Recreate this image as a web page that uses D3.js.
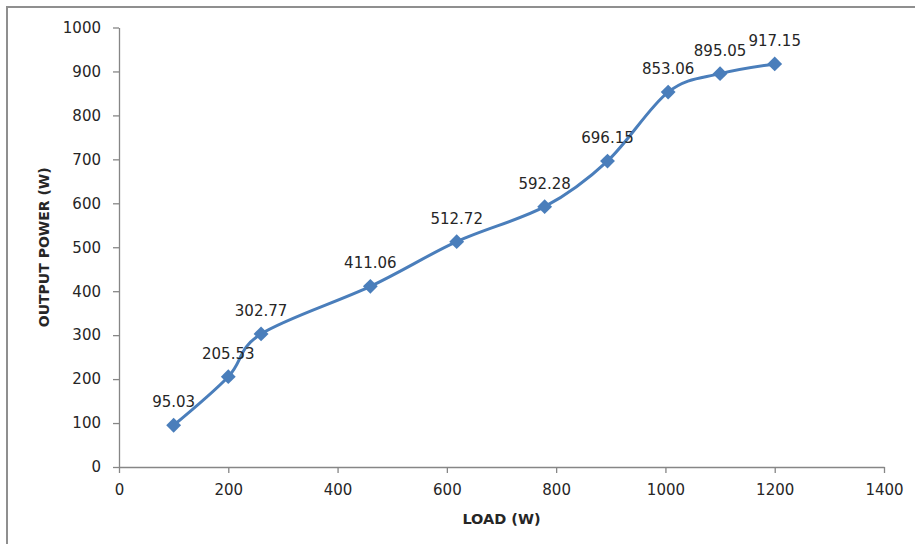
<!DOCTYPE html>
<html>
<head>
<meta charset="utf-8">
<script src="https://cdn.jsdelivr.net/npm/d3@7"></script>
<style>
  html, body { margin: 0; padding: 0; background: #fff; }
  svg { display: block; }
  text { font-family: "DejaVu Sans", "Open Sans", sans-serif; fill: #262626; }
</style>
</head>
<body>
<svg id="chart" width="915" height="544"></svg>
<script>
// ---- data ----
const loads = [100, 200, 260, 460, 618, 779, 894, 1005, 1100, 1200];
const outputPower = [95.03, 205.53, 302.77, 411.06, 512.72, 592.28, 696.15, 853.06, 895.05, 917.15];
const xTicks = [0, 200, 400, 600, 800, 1000, 1200, 1400];
const yTicks = [0, 100, 200, 300, 400, 500, 600, 700, 800, 900, 1000];
const xTitle = "LOAD (W)";
const yTitle = "OUTPUT POWER (W)";

const W = 915, H = 544;
const margin = { left: 119, right: W - 884, top: 27.5, bottom: H - 467 };
const svg = d3.select("#chart");

svg.append("rect").attr("width", W).attr("height", H).attr("fill", "#fff");
// outer chart border (left and top visible)
svg.append("path")
  .attr("d", d3.line()([[7, H + 2], [7, 7], [W + 2, 7]]))
  .attr("fill", "none").attr("stroke", "#8f8f8f").attr("stroke-width", 2);

const x = d3.scaleLinear().domain([0, 1400]).range([margin.left, W - margin.right]);
const y = d3.scaleLinear().domain([0, 1000]).range([H - margin.bottom, margin.top]);

const axisColor = "#868686";

// x axis
const gx = svg.append("g").attr("transform", `translate(0,${y(0)})`)
  .call(d3.axisBottom(x).tickValues(xTicks).tickSize(6).tickSizeOuter(0).tickFormat(d3.format("d")));
gx.select(".domain").attr("stroke", axisColor).attr("stroke-width", 1.3);
gx.selectAll(".tick line").attr("stroke", axisColor).attr("stroke-width", 1.3);
gx.selectAll(".tick text").attr("font-size", 15).attr("dy", "1.25em")
  .style("font-family", "DejaVu Sans").attr("fill", "#262626");

// y axis
const gy = svg.append("g").attr("transform", `translate(${x(0)},0)`)
  .call(d3.axisLeft(y).tickValues(yTicks).tickSize(6).tickSizeOuter(0).tickFormat(d3.format("d")));
gy.select(".domain").attr("stroke", axisColor).attr("stroke-width", 1.3);
gy.selectAll(".tick line").attr("stroke", axisColor).attr("stroke-width", 1.3);
gy.selectAll(".tick text").attr("font-size", 15).attr("x", -18)
  .style("font-family", "DejaVu Sans").attr("fill", "#262626");

// axis titles
svg.append("text")
  .attr("x", (x(0) + x(1400)) / 2).attr("y", 523.5)
  .attr("text-anchor", "middle").attr("font-size", 14.5).attr("font-weight", "bold")
  .attr("fill", "#000")
  .text(xTitle);
svg.append("text")
  .attr("transform", `translate(49,${(y(0) + y(1000)) / 2}) rotate(-90)`)
  .attr("text-anchor", "middle").attr("font-size", 14).attr("font-weight", "bold")
  .attr("fill", "#000")
  .text(yTitle);

// data
const pts = loads.map((d, i) => [x(d), y(outputPower[i])]);
const color = "#4a7ebb";

svg.append("path")
  .attr("d", d3.line().curve(d3.curveCardinal.tension(0))(pts))
  .attr("fill", "none").attr("stroke", color).attr("stroke-width", 3)
  .attr("stroke-linejoin", "round").attr("stroke-linecap", "round");

svg.selectAll(".marker").data(pts).join("path")
  .attr("class", "marker")
  .attr("d", d3.symbol(d3.symbolSquare, 110)())
  .attr("transform", d => `translate(${d[0]},${d[1]}) rotate(45)`)
  .attr("fill", color);

svg.selectAll(".lbl").data(loads).join("text")
  .attr("class", "lbl")
  .attr("x", d => x(d))
  .attr("y", (d, i) => y(outputPower[i]) - 18)
  .attr("text-anchor", "middle").attr("font-size", 15)
  .text((d, i) => d3.format(".2f")(outputPower[i]));
</script>
</body>
</html>
